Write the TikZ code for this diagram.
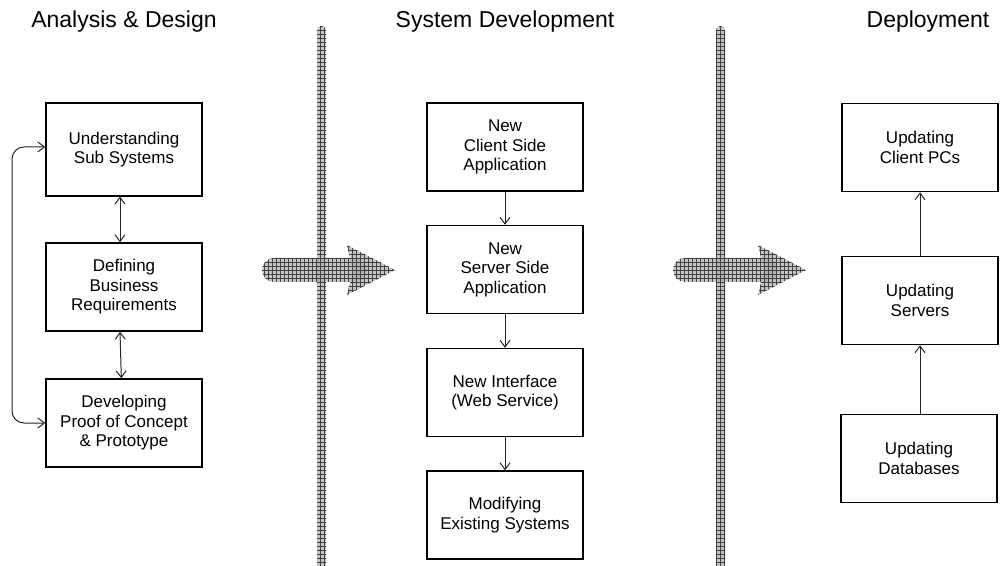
\documentclass[tikz,border=0pt]{standalone}
\usepackage{fontspec}
\setmainfont{Liberation Sans}
\usetikzlibrary{arrows.meta,patterns}
\begin{document}
\begin{tikzpicture}[x=0.75pt,y=-0.75pt,
  box/.style={draw=black, line width=1.1pt, fill=white, minimum width=117pt,
    minimum height=66pt, inner sep=0pt, align=center,
    font=\fontsize{12.75}{14.6}\selectfont},
  title/.style={font=\fontsize{17.25}{20}\selectfont, anchor=base, inner sep=0pt},
  conn/.style={draw=black!85, line width=0.75pt},
  tipe/.style={-{Straight Barb[length=5pt,width=7.5pt]}},
  tipb/.style={{Straight Barb[length=5pt,width=7.5pt]}-{Straight Barb[length=5pt,width=7.5pt]}},
  band/.style={fill=gray!65, fill opacity=0.7, draw=none,
    postaction={pattern=grid, pattern color=black!75}}
]
\useasboundingbox (0,0) rectangle (1005,566);

% titles
\node[title] (t1) at (124,28) {Analysis \& Design};
\node[title] (t2) at (505,28) {System Development};
\node[title] (t3) at (928,28) {Deployment};

% vertical separator bars
\path[band, rounded corners=3.3pt] (317,26) rectangle (326,580);
\path[band, rounded corners=3.3pt] (716,26) rectangle (725,580);

% big horizontal arrows
\path[band, rounded corners=9pt] (262,258) rectangle (367,282);
\path[band] (347,245) -- (395,270) -- (347,295) -- (353,270) -- cycle;
\path[band, rounded corners=9pt] (673,258) rectangle (778,282);
\path[band] (758,245) -- (806,270) -- (758,295) -- (764,270) -- cycle;

% left column
\node[box, minimum height=69.5pt] (l1) at (124,149.5) {Understanding\\Sub Systems};
\node[box] (l2) at (124,287) {Defining\\Business\\Requirements};
\node[box] (l3) at (124,423) {Developing\\Proof of Concept\\\& Prototype};

% middle column
\node[box] (m1) at (505,147) {New\\Client Side\\Application};
\node[box] (m2) at (505,269.5) {New\\Server Side\\Application};
\node[box] (m3) at (505,392.5) {New Interface\\(Web Service)};
\node[box] (m4) at (505,515) {Modifying\\Existing Systems};

% right column
\node[box] (r1) at (920,147.5) {Updating\\Client PCs};
\node[box] (r2) at (920,300.5) {Updating\\Servers};
\node[box] (r3) at (919,458.5) {Updating\\Databases};

% connectors left
\draw[conn, tipb] ([xshift=-3pt]l1.south) -- ([xshift=-3pt]l2.north);
\draw[conn, tipb] ([xshift=-3pt]l2.south) -- ([xshift=-2pt]l3.north);
\coordinate (lx) at (12,0);
\draw[conn, tipb, rounded corners=9pt] ([yshift=1.9pt]l1.west) -- ([yshift=1.9pt]l1.west -| lx) -- (l3.west -| lx) -- (l3.west);

% connectors middle
\draw[conn, tipe] (m1) -- (m2);
\draw[conn, tipe] (m2) -- (m3);
\draw[conn, tipe] (m3) -- (m4);

% connectors right
\draw[conn, tipe] (r3.north -| r2.south) -- (r2.south);
\draw[conn, tipe] (r2) -- (r1);
\end{tikzpicture}
\end{document}
